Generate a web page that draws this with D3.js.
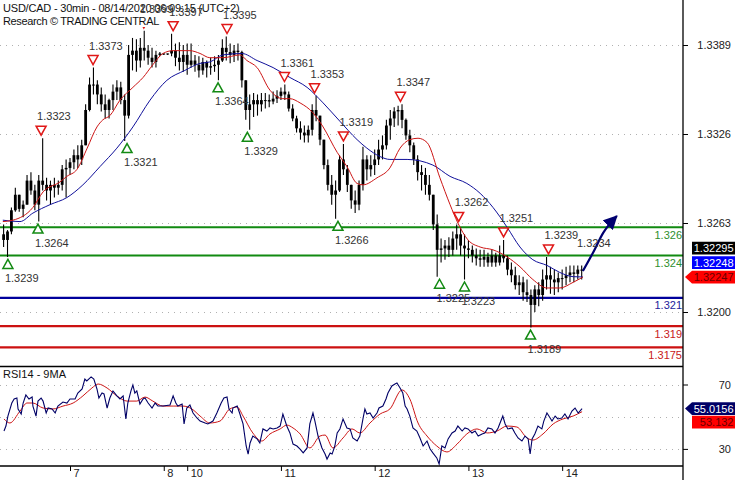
<!DOCTYPE html>
<html><head><meta charset="utf-8">
<script src="https://cdn.jsdelivr.net/npm/d3@7"></script>
<style>
body{margin:0;background:#fff}
svg{display:block;font-family:"Liberation Sans",Arial,sans-serif}
</style>
</head><body>
<svg id="c" width="735" height="480"></svg>
<script>
// ---------- DATA (hourly bars, index 0 = Aug 6 ~06:00 UTC+2) ----------
const titleLine1 = "USD/CAD - 30min - 08/14/2020 06:09:15 (UTC+2)";
const titleLine2 = "Research \u00A9 TRADING CENTRAL";
const rsiTitle = "RSI14 - 9MA";
const firstBar = 1;
const firstOpen = 1.3255;
const highs = [
1.3262,1.3258,1.3274,1.3288,1.3283,1.3279,1.3297,1.3299,1.3290,1.3297,
1.3323,1.3295,1.3293,1.3295,1.3293,1.3304,1.3308,1.3309,1.3315,1.3318,
1.3322,1.3347,1.3366,1.3373,1.3364,1.3359,1.3354,1.3351,1.3361,1.3364,
1.3363,1.3354,1.3389,1.3394,1.3393,1.3394,1.3399,1.3389,1.3387,1.3385,
1.3384,1.3383,1.3383,1.3397,1.3390,1.3391,1.3389,1.3390,1.3390,1.3382,
1.3381,1.3380,1.3378,1.3380,1.3381,1.3382,1.3393,1.3395,1.3390,1.3389,
1.3390,1.3385,1.3364,1.3354,1.3355,1.3354,1.3355,1.3355,1.3354,1.3356,
1.3357,1.3359,1.3361,1.3356,1.3347,1.3339,1.3335,1.3332,1.3332,1.3347,
1.3353,1.3339,1.3322,1.3308,1.3297,1.3293,1.3311,1.3319,1.3304,1.3290,
1.3286,1.3293,1.3317,1.3311,1.3311,1.3315,1.3322,1.3325,1.3336,1.3343,
1.3345,1.3346,1.3347,1.3337,1.3329,1.3320,1.3311,1.3304,1.3302,1.3297,
1.3283,1.3269,1.3252,1.3251,1.3253,1.3257,1.3262,1.3260,1.3255,1.3251,
1.3247,1.3245,1.3244,1.3244,1.3242,1.3244,1.3242,1.3247,1.3251,1.3240,
1.3235,1.3232,1.3226,1.3225,1.3223,1.3216,1.3219,1.3221,1.3230,1.3239,
1.3232,1.3230,1.3228,1.3230,1.3232,1.3233,1.3233,1.3233,1.3233];
const lows = [
1.3246,1.3239,1.3255,1.3271,1.3271,1.3267,1.3276,1.3283,1.3272,1.3264,
1.3286,1.3279,1.3276,1.3281,1.3283,1.3286,1.3281,1.3297,1.3301,1.3302,
1.3304,1.3318,1.3342,1.3354,1.3347,1.3342,1.3337,1.3337,1.3343,1.3350,
1.3347,1.3321,1.3337,1.3371,1.3370,1.3373,1.3378,1.3375,1.3373,1.3373,
1.3381,1.3382,1.3382,1.3381,1.3374,1.3371,1.3370,1.3368,1.3373,1.3370,
1.3366,1.3368,1.3366,1.3368,1.3370,1.3364,1.3377,1.3378,1.3376,1.3377,
1.3378,1.3359,1.3336,1.3329,1.3338,1.3339,1.3342,1.3344,1.3345,1.3347,
1.3348,1.3350,1.3350,1.3342,1.3335,1.3327,1.3322,1.3320,1.3320,1.3325,
1.3335,1.3318,1.3301,1.3286,1.3276,1.3266,1.3285,1.3297,1.3285,1.3273,
1.3270,1.3272,1.3286,1.3293,1.3296,1.3297,1.3304,1.3308,1.3315,1.3322,
1.3331,1.3332,1.3330,1.3322,1.3313,1.3304,1.3293,1.3286,1.3283,1.3279,
1.3258,1.3225,1.3235,1.3237,1.3239,1.3240,1.3244,1.3240,1.3223,1.3238,
1.3235,1.3233,1.3232,1.3232,1.3232,1.3232,1.3232,1.3233,1.3235,1.3226,
1.3221,1.3216,1.3212,1.3208,1.3207,1.3189,1.3200,1.3204,1.3208,1.3216,
1.3213,1.3212,1.3214,1.3216,1.3219,1.3221,1.3221,1.3223,1.3223];
const closes = [
1.3251,1.3257,1.3272,1.3283,1.3273,1.3276,1.3293,1.3286,1.3276,1.3293,
1.3290,1.3286,1.3290,1.3288,1.3290,1.3301,1.3302,1.3306,1.3311,1.3308,
1.3318,1.3343,1.3361,1.3361,1.3354,1.3347,1.3343,1.3350,1.3356,1.3359,
1.3350,1.3339,1.3382,1.3385,1.3378,1.3387,1.3385,1.3380,1.3377,1.3382,
1.3383,1.3383,1.3383,1.3385,1.3380,1.3377,1.3382,1.3375,1.3378,1.3375,
1.3371,1.3377,1.3373,1.3374,1.3375,1.3378,1.3387,1.3384,1.3382,1.3385,
1.3384,1.3364,1.3343,1.3347,1.3350,1.3347,1.3350,1.3350,1.3349,1.3351,
1.3353,1.3356,1.3354,1.3344,1.3337,1.3330,1.3327,1.3325,1.3329,1.3343,
1.3339,1.3322,1.3304,1.3290,1.3283,1.3286,1.3308,1.3301,1.3290,1.3279,
1.3276,1.3290,1.3308,1.3301,1.3304,1.3308,1.3315,1.3318,1.3332,1.3337,
1.3342,1.3343,1.3336,1.3325,1.3318,1.3308,1.3299,1.3297,1.3290,1.3283,
1.3262,1.3244,1.3245,1.3247,1.3244,1.3252,1.3255,1.3247,1.3245,1.3244,
1.3240,1.3238,1.3237,1.3239,1.3235,1.3240,1.3235,1.3240,1.3238,1.3230,
1.3226,1.3219,1.3221,1.3214,1.3212,1.3205,1.3216,1.3212,1.3223,1.3226,
1.3223,1.3221,1.3224,1.3224,1.3226,1.3228,1.3227,1.3230,1.32295];

// moving averages as [barIndex, price]
const fastMA = [[0.8,1.3264],[3.4,1.3265],[8.5,1.3274],[11.1,1.3285],[15.4,1.3292],[17.2,1.3296],[19.8,1.3301],[22.4,1.3316],[24.9,1.3331],[26.4,1.3336],[28.2,1.3339],[30.8,1.3350],[34.1,1.3359],[36.7,1.3366],[39.2,1.3375],[41.8,1.3383],[44.4,1.3385],[48.7,1.3385],[51.3,1.3383],[53.8,1.3380],[57.2,1.3380],[61.5,1.3382],[63.3,1.3378],[65.9,1.3373],[69.2,1.3357],[72.5,1.3351],[74.3,1.3351],[76.9,1.3348],[80.2,1.3341],[82.8,1.3331],[86.4,1.3313],[88.9,1.3303],[91.5,1.3291],[93.0,1.3290],[96.6,1.3295],[99.9,1.3302],[102.5,1.3316],[105.0,1.3322],[107.1,1.3323],[109.4,1.3320],[112.7,1.3295],[115.3,1.3276],[117.3,1.3263],[119.9,1.3251],[123.0,1.3246],[126.3,1.3244],[129.9,1.3239],[133.2,1.3232],[136.5,1.3223],[140.1,1.3217],[143.4,1.3217],[146.8,1.3221],[149.3,1.32247]];
const slowMA = [[0.8,1.3265],[5.2,1.3264],[8.5,1.3270],[12.9,1.3276],[17.2,1.3281],[21.3,1.3290],[25.7,1.3303],[30.0,1.3316],[34.1,1.3331],[38.5,1.3350],[42.8,1.3364],[47.4,1.3371],[51.3,1.3376],[53.8,1.3377],[57.2,1.3382],[62.0,1.3383],[65.9,1.3378],[70.0,1.3373],[74.3,1.3366],[78.7,1.3359],[82.8,1.3348],[87.1,1.3335],[91.5,1.3322],[94.0,1.3316],[97.4,1.3310],[99.9,1.3308],[104.3,1.3308],[110.9,1.3304],[115.3,1.3296],[119.6,1.3291],[123.0,1.3284],[126.3,1.3274],[129.9,1.3260],[133.2,1.3246],[136.5,1.3237],[140.1,1.3233],[143.4,1.3228],[146.8,1.3225],[149.3,1.32248]];

// support / resistance levels
const levels = [1.326, 1.324, 1.321, 1.319, 1.3175];
const levelNames = ["1.326","1.324","1.321","1.319","1.3175"];
const levelKinds = ["green","green","blue","red","red"];

// pivots [barIndex, price]
const highPivots = [[10.6,1.3323],[23.9,1.3373],[36.9,1.3399],[44.4,1.3397],[58.2,1.3395],[72.9,1.3361],[80.6,1.3353],[88.0,1.3319],[102.6,1.3347],[117.5,1.3262],[129.0,1.3251],[140.5,1.3239]];
const lowPivots = [[2.1,1.3239],[9.8,1.3264],[32.6,1.3321],[55.9,1.3364],[63.4,1.3329],[86.6,1.3266],[112.6,1.3225],[119.0,1.3223],[135.9,1.3189]];

// projection arrow
const projection = [[149.3,1.3229],[151.9,1.3242],[154.5,1.3256],[158.0,1.3268]];
const projectionText = "1.3234";
const projectionTextAt = [147.8,1.3249];

// price tags
const priceTags = [1.32247, 1.32248, 1.32295];
const priceTagKinds = ["red","blue","black"];

// RSI [barIndex, value]
const rsi = [[1.1,41.1],[1.6,44.2],[2.1,50.4],[3.1,58.5],[3.7,61.0],[4.4,61.6],[4.7,54.8],[5.5,51.7],[6.0,58.5],[6.7,63.5],[7.5,61.0],[8.3,62.2],[8.5,56.6],[9.3,50.4],[9.8,59.7],[10.6,61.6],[11.1,59.7],[11.9,52.3],[12.4,55.4],[13.4,54.8],[14.2,52.3],[14.9,56.6],[16.2,59.1],[17.2,58.5],[18.0,61.0],[19.3,61.0],[20.0,64.7],[21.1,67.2],[21.8,73.4],[22.3,72.2],[23.4,74.7],[24.1,73.4],[24.9,67.2],[25.4,61.6],[26.2,64.7],[26.7,64.1],[27.5,55.4],[28.2,61.6],[29.0,66.0],[30.0,62.9],[30.8,61.0],[31.6,62.9],[32.3,48.6],[32.8,58.5],[33.6,66.0],[34.1,69.7],[34.6,64.7],[35.1,66.0],[35.9,57.9],[36.7,61.0],[37.2,61.6],[38.0,58.5],[39.0,55.4],[39.8,58.5],[40.5,56.6],[41.8,56.6],[43.6,57.3],[44.4,62.9],[45.1,58.5],[45.6,56.6],[46.7,57.9],[47.2,45.5],[47.9,55.4],[48.7,57.3],[49.5,52.3],[50.5,49.2],[51.3,47.3],[52.6,46.1],[53.3,45.5],[54.6,47.3],[55.6,52.3],[56.7,58.5],[57.4,61.6],[58.2,62.2],[58.7,54.8],[59.5,52.3],[59.7,55.4],[60.8,56.6],[61.5,51.7],[62.3,45.5],[63.1,31.8],[63.6,26.8],[64.1,33.7],[64.8,38.0],[65.9,36.2],[66.6,33.7],[67.4,42.4],[68.4,41.1],[69.2,43.0],[70.0,42.4],[71.0,43.0],[71.8,44.2],[72.5,51.7],[73.5,44.2],[74.3,39.9],[75.1,33.0],[76.1,31.8],[76.9,29.9],[77.7,27.5],[78.7,30.6],[79.4,45.5],[80.2,52.3],[80.7,47.3],[81.5,38.0],[82.5,30.6],[83.3,26.8],[83.8,23.7],[84.6,27.5],[85.1,26.8],[85.8,31.8],[86.4,39.9],[87.1,42.4],[87.9,48.6],[88.9,43.0],[89.7,42.4],[90.4,36.8],[91.5,34.9],[92.2,38.0],[93.0,48.6],[93.5,54.8],[94.0,51.7],[94.8,52.3],[95.6,49.2],[96.6,52.3],[97.1,55.4],[98.1,56.6],[98.9,61.0],[99.4,64.7],[100.4,69.1],[101.2,70.3],[101.7,70.9],[102.5,67.8],[103.2,64.7],[103.8,56.6],[104.3,54.8],[105.0,50.4],[105.8,43.0],[106.8,41.1],[107.6,36.8],[108.4,31.8],[109.4,34.9],[110.2,29.9],[110.9,27.5],[111.9,24.4],[112.5,20.6],[113.2,31.8],[114.0,30.6],[114.8,36.2],[115.8,39.9],[116.6,41.1],[117.3,44.2],[118.4,41.1],[119.1,43.0],[119.9,42.4],[120.9,39.9],[121.7,41.1],[122.5,38.0],[123.5,39.3],[124.2,39.9],[125.0,43.0],[126.0,42.4],[126.8,39.9],[127.6,43.0],[128.8,50.4],[129.4,45.5],[130.1,42.4],[131.2,43.0],[131.9,39.9],[132.7,36.8],[133.7,34.9],[134.5,38.0],[135.3,36.2],[135.8,26.8],[136.3,36.2],[137.0,39.3],[137.8,44.2],[138.8,42.4],[139.3,47.3],[140.1,52.3],[140.6,50.4],[141.4,47.3],[142.2,50.4],[142.9,48.6],[143.9,49.2],[144.7,51.7],[145.5,48.6],[146.5,53.5],[147.3,55.4],[148.1,52.3],[149.1,55.0156]];
const rsiMA = [[1.1,48.6],[2.6,46.1],[5.2,53.5],[7.0,58.5],[8.5,58.5],[11.1,55.4],[13.6,54.8],[16.2,56.6],[18.8,58.5],[21.3,62.9],[23.6,67.8],[25.2,70.3],[27.5,67.8],[30.0,62.9],[32.6,59.7],[35.1,59.7],[37.2,62.2],[39.2,59.7],[41.8,56.6],[44.4,56.6],[46.9,56.6],[49.2,54.8],[51.3,50.4],[53.8,46.1],[56.4,47.3],[58.9,54.8],[60.8,56.0],[62.3,50.4],[64.8,39.9],[67.1,34.9],[69.2,39.3],[71.8,42.4],[73.5,44.8],[75.1,43.0],[76.9,39.3],[79.4,30.6],[82.0,38.0],[83.3,38.6],[85.3,30.6],[87.9,36.8],[90.2,42.4],[92.2,39.9],[94.8,46.1],[97.4,51.7],[99.9,54.8],[103.0,66.6],[105.0,61.0],[107.1,46.1],[109.4,38.0],[111.9,31.8],[114.5,28.1],[117.1,33.0],[119.6,39.3],[122.2,42.4],[124.8,39.9],[127.3,41.1],[129.9,44.2],[132.4,43.6],[135.0,36.8],[136.5,35.5],[139.1,39.3],[141.7,45.5],[144.2,48.6],[146.8,50.4],[149.1,53.132]];
const rsiTags = [55.0156, 53.132];
const rsiTagKinds = ["navy","red"];

// axis ticks
const priceTicks = [1.3200, 1.3263, 1.3326, 1.3389];
const rsiTicks = [30, 70];
const rsiGrid = [30, 50, 70];
const dayTicks = [18, 42, 48, 72, 96, 120, 144];
const dayLabels = ["7", "8", "10", "11", "12", "13", "14"];

// ---------- DRAWING ----------
const svg = d3.select("#c");
const AX = 683, MAIN_BOT = 366.5, RSI_BOT = 466;
const x = d3.scaleLinear().domain([0, 175]).range([-0.3, 683.25]);
const y = d3.scaleLinear().domain([1.3200, 1.3389]).range([312, 45]);
const yr = d3.scaleLinear().domain([30, 70]).range([448.9, 384.5]);
const fmt4 = d3.format(".4f");
const C = {green:"#118a11", blue:"#00009c", red:"#cc1111", black:"#000", navy:"#000070"};
const textC = {green:"#2e8f2e", blue:"#23239a", red:"#c82020"};

const defs = svg.append("defs");
defs.append("clipPath").attr("id","clipMain").append("rect").attr("x",0).attr("y",0).attr("width",AX).attr("height",MAIN_BOT);
defs.append("clipPath").attr("id","clipRsi").append("rect").attr("x",0).attr("y",MAIN_BOT+1).attr("width",AX).attr("height",RSI_BOT-MAIN_BOT-1);
defs.append("marker").attr("id","arrowHead").attr("markerUnits","userSpaceOnUse")
  .attr("markerWidth",16).attr("markerHeight",14).attr("refX",13).attr("refY",7).attr("orient","auto")
  .append("path").attr("d","M0,0 L14,7 L0,14 Z").attr("fill",C.navy);

const main = svg.append("g").attr("clip-path","url(#clipMain)");
const rsiG = svg.append("g").attr("clip-path","url(#clipRsi)");

// grid
main.selectAll(".g").data(priceTicks).join("line")
  .attr("x1",0).attr("x2",AX).attr("y1",d=>Math.round(y(d))+0.5).attr("y2",d=>Math.round(y(d))+0.5)
  .attr("stroke","#b0b0b0").attr("stroke-dasharray","1,5");
rsiG.selectAll(".g").data(rsiGrid).join("line")
  .attr("x1",0).attr("x2",AX).attr("y1",d=>Math.round(yr(d))+0.5).attr("y2",d=>Math.round(yr(d))+0.5)
  .attr("stroke","#b0b0b0").attr("stroke-dasharray","1,5");

// levels
levels.forEach((v,i)=>{
  const yy = y(v);
  main.append("line").attr("x1",0).attr("x2",AX).attr("y1",yy).attr("y2",yy)
    .attr("stroke",C[levelKinds[i]]).attr("stroke-width",2.2);
  main.append("text").attr("x",AX-1).attr("y",yy+11.5).attr("text-anchor","end")
    .attr("font-size",11).attr("fill",textC[levelKinds[i]]).text(levelNames[i]);
});

// candles
const bars = highs.map((h,k)=>({
  t: firstBar + k, h, l: lows[k], c: closes[k], o: k===0 ? firstOpen : closes[k-1]
}));
const cg = main.append("g");
cg.selectAll("line").data(bars).join("line")
  .attr("x1",d=>x(d.t)).attr("x2",d=>x(d.t))
  .attr("y1",d=>y(d.h)).attr("y2",d=>y(d.l))
  .attr("stroke","#000").attr("stroke-width",1.1);
cg.selectAll("rect").data(bars).join("rect")
  .attr("x",d=>x(d.t)-1.4).attr("width",2.8)
  .attr("y",d=>y(Math.max(d.o,d.c)))
  .attr("height",d=>Math.max(1,Math.abs(y(d.o)-y(d.c))))
  .attr("fill","#000");

// moving averages
const lineP = d3.line().x(d=>x(d[0])).y(d=>y(d[1])).curve(d3.curveMonotoneX);
main.append("path").datum(slowMA).attr("d",lineP).attr("fill","none").attr("stroke","#10109a").attr("stroke-width",1);
main.append("path").datum(fastMA).attr("d",lineP).attr("fill","none").attr("stroke","#cc1515").attr("stroke-width",1);

// pivots
const tri = main.append("g");
highPivots.forEach(([t,p])=>{
  const cx = x(t), tip = y(p) - 3;
  tri.append("path").attr("d",`M${cx-5},${tip-9}L${cx+5},${tip-9}L${cx},${tip}Z`)
    .attr("fill","#fff").attr("stroke","#e01818").attr("stroke-width",1.5);
});
lowPivots.forEach(([t,p])=>{
  const cx = x(t), tip = y(p) + 2.5;
  tri.append("path").attr("d",`M${cx-5},${tip+9}L${cx+5},${tip+9}L${cx},${tip}Z`)
    .attr("fill","#fff").attr("stroke","#138a13").attr("stroke-width",1.5);
});

// projection arrow
main.append("path").datum(projection)
  .attr("d",d3.line().x(d=>x(d[0])).y(d=>y(d[1])).curve(d3.curveMonotoneX))
  .attr("fill","none").attr("stroke",C.navy).attr("stroke-width",2.2).attr("marker-end","url(#arrowHead)");

// title (second line masks what is behind it)
svg.append("rect").attr("x",0).attr("y",14.5).attr("width",158).attr("height",12.5).attr("fill","#fff");
svg.append("text").attr("x",3).attr("y",12).attr("font-size",11).attr("letter-spacing",-0.2).attr("fill","#111").text(titleLine1);
svg.append("text").attr("x",3).attr("y",24.5).attr("font-size",11).attr("letter-spacing",-0.35).attr("fill","#111").text(titleLine2);

// pivot labels
const lab = svg.append("g").attr("font-size",11).attr("fill","#333");
highPivots.forEach(([t,p])=>{
  lab.append("text").attr("x",x(t)-4).attr("y",y(p)-18).text(fmt4(p));
});
lowPivots.forEach(([t,p])=>{
  lab.append("text").attr("x",x(t)-3).attr("y",y(p)+25).text(fmt4(p));
});
lab.append("text").attr("x",x(projectionTextAt[0])).attr("y",y(projectionTextAt[1])+4).text(projectionText);

// RSI
rsiG.append("path").datum(rsiMA).attr("d",d3.line().x(d=>x(d[0])).y(d=>yr(d[1])).curve(d3.curveMonotoneX))
  .attr("fill","none").attr("stroke","#cc1515").attr("stroke-width",1);
rsiG.append("path").datum(rsi).attr("d",d3.line().x(d=>x(d[0])).y(d=>yr(d[1])))
  .attr("fill","none").attr("stroke","#000066").attr("stroke-width",1.1);
svg.append("text").attr("x",3).attr("y",378).attr("font-size",11).attr("fill","#111").text(rsiTitle);

// frame
svg.append("line").attr("x1",0).attr("x2",AX).attr("y1",MAIN_BOT).attr("y2",MAIN_BOT).attr("stroke","#000").attr("stroke-width",1.3);
svg.append("line").attr("x1",0).attr("x2",AX).attr("y1",RSI_BOT).attr("y2",RSI_BOT).attr("stroke","#000").attr("stroke-width",1.3);
svg.append("line").attr("x1",AX).attr("x2",AX).attr("y1",0).attr("y2",480).attr("stroke","#000").attr("stroke-width",1.3);

// right axes
const ra = svg.append("g").attr("transform",`translate(${AX},0)`)
  .call(d3.axisRight(y).tickValues(priceTicks).tickSize(5).tickFormat(fmt4));
const ra2 = svg.append("g").attr("transform",`translate(${AX},0)`)
  .call(d3.axisRight(yr).tickValues(rsiTicks).tickSize(5).tickFormat(d3.format("d")));
[ra,ra2].forEach(g=>{
  g.select(".domain").remove();
  g.selectAll("line").attr("stroke","#000");
  g.selectAll("text").attr("x",48).attr("text-anchor","end").attr("font-size",11)
    .attr("font-family","Liberation Sans, Arial, sans-serif").attr("fill","#222");
});

// bottom axis
const ba = svg.append("g").attr("transform",`translate(0,${RSI_BOT})`)
  .call(d3.axisBottom(x).tickValues(dayTicks).tickSize(5).tickFormat((d,i)=>dayLabels[i]));
ba.select(".domain").remove();
ba.selectAll("line").attr("stroke","#000");
ba.selectAll("text").attr("x",3).attr("y",3).attr("dy","0.71em").attr("text-anchor","start")
  .attr("font-size",11).attr("font-family","Liberation Sans, Arial, sans-serif").attr("fill","#222");

// value tags
const tagFill = {red:"#ff0000", blue:"#0000ff", black:"#000", navy:"#000066"};
const tagText = {red:"#6a0000", blue:"#fff", black:"#fff", navy:"#fff"};
function drawTags(vals, kinds, scale, dir, fmt){
  const cy = scale(vals[0]);
  vals.forEach((v,i)=>{
    const yy = cy + dir*14.5*i;
    const k = kinds[i], h = 12.6, top = yy - h/2;
    const shape = i===0
      ? `M685,${yy}L692,${top}L735,${top}L735,${top+h}L692,${top+h}Z`
      : `M692,${top}L735,${top}L735,${top+h}L692,${top+h}Z`;
    svg.append("path").attr("d",shape).attr("fill",tagFill[k]);
    svg.append("text").attr("x",733.5).attr("y",yy+4).attr("text-anchor","end")
      .attr("font-size",11).attr("fill",tagText[k]).text(fmt(v));
  });
}
drawTags(priceTags, priceTagKinds, y, -1, d3.format(".5f"));
drawTags(rsiTags, rsiTagKinds, yr, 0.93, v=>String(v));
</script>
</body></html>
